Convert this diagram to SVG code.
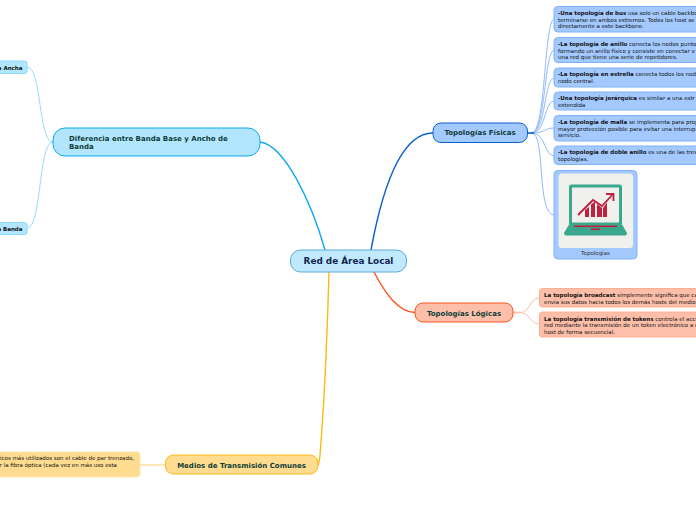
<svg xmlns="http://www.w3.org/2000/svg" width="696" height="520" viewBox="0 0 696 520">
<style>
text{font-family:"DejaVu Sans",Verdana,sans-serif;fill:#111}
.t{font-size:5.5px}
.b{font-weight:bold}
.m{font-size:7px;font-weight:bold;fill:#0f3d3a}
.leaf{fill:#a3c9ff;stroke:#7fb2fb;stroke-width:1}
.org{fill:#fdbfa9;stroke:#fcae92;stroke-width:1}
.c{fill:none;stroke-linecap:round}
</style>
<g id="connectors">
<g class="c" stroke="#8fbaf9" stroke-width="1" fill="none">
<path d="M532 133C546 133 544 19 554 19"/>
<path d="M532 133C546 133 544 50 554 50"/>
<path d="M532 133C546 133 544 78 554 78"/>
<path d="M532 133C546 133 544 101 554 101"/>
<path d="M532 133C546 133 544 128 554 128"/>
<path d="M532 133C546 133 544 156 554 156"/>
<path d="M532 133C546 133 536 215 554 215"/>
</g>
<path d="M527 133L534 133" stroke="#0a5fd0" stroke-width="1.6"/>
<g fill="none" stroke="#fdbfa9" stroke-width="1">
<path d="M520 312.500C530 312.500 530 298 539 298"/>
<path d="M520 312.500C530 312.500 530 324 539 324"/>
</g>
<path d="M513 312.500L520 312.500" stroke="#fdbfa9" stroke-width="1.800"/>
<g fill="none" stroke="#97dcfb" stroke-width="1">
<path d="M53 142C38 142 42 67 27 67"/>
<path d="M53 142C38 142 42 228 27 228"/>
</g>
<path d="M165 465H140" stroke="#fde5b0" stroke-width="1.800"/>
<path d="M371 250C382 190 400 133 433 133" fill="none" stroke="#0a5fd0" stroke-width="1.400"/>
<path d="M374 272C385 293 398 312 415 312.500" fill="none" stroke="#f9571e" stroke-width="1.400"/>
<path d="M325 250C312 204 285 145 260 142" fill="none" stroke="#0da7f2" stroke-width="1.400"/>
<path d="M329 272C327 340 323 420 320 455Q319 464 318 465" fill="none" stroke="#fdb813" stroke-width="1.400"/>
</g>
<g id="root">
<rect x="290.500" y="250" width="116" height="22" rx="10" fill="#c0e9fe" stroke="#5aa9dc" stroke-width="1"/>
<text x="348.500" y="264.300" text-anchor="middle" class="b" font-size="8.850" style="fill:#12264f">Red de Área Local</text>
</g>
<g id="fisicas">
<rect x="433" y="123" width="94.500" height="19.500" rx="8" fill="#a3c9ff" stroke="#0a5fd0" stroke-width="1"/>
<text x="480" y="135.400" text-anchor="middle" class="m">Topologías Físicas</text>
</g>
<g id="logicas">
<rect x="415" y="303" width="98" height="19" rx="8" fill="#fdbfa9" stroke="#f9571e" stroke-width="1"/>
<text x="464" y="315.500" text-anchor="middle" class="m">Topologías Lógicas</text>
</g>
<g id="medios">
<rect x="165.500" y="455" width="152.500" height="19" rx="8" fill="#ffdc8f" stroke="#fdb813" stroke-width="1"/>
<text x="241.500" y="467.500" text-anchor="middle" class="m">Medios de Transmisión Comunes</text>
</g>
<g id="diferencia">
<rect x="53" y="128" width="207" height="28" rx="12" fill="#b2e6fe" stroke="#0da7f2" stroke-width="1"/>
<text x="69" y="141" class="m">Diferencia entre Banda Base y Ancho de</text>
<text x="69" y="149" class="m">Banda</text>
</g>
<g id="leaf-ancha">
<rect x="-20" y="61" width="47" height="12.500" rx="2.500" fill="#b2e6fe" stroke="#8ad7fb" stroke-width="1"/>
<text x="22.500" y="69.500" text-anchor="end" class="t b">a Ancha</text>
</g>
<g id="leaf-banda">
<rect x="-20" y="222.500" width="47" height="12" rx="2.500" fill="#b2e6fe" stroke="#8ad7fb" stroke-width="1"/>
<text x="22.500" y="230.800" text-anchor="end" class="t b">a Banda</text>
</g>
<g id="leaf-medios">
<rect x="-20" y="452" width="160" height="25" rx="3" fill="#ffdc8f" stroke="#fde5b0" stroke-width="1"/>
<text x="134" y="460" text-anchor="end" class="t">icos más utilizados son el cable de par trenzado,</text>
<text x="117" y="467" text-anchor="end" class="t">r la fibra óptica (cada vez en más uso esta</text>
</g>
<g id="bus">
<rect x="554" y="6.500" width="160" height="25.500" rx="4" class="leaf"/>
<text x="558" y="15" class="t"><tspan class="b">-Una topología de bus</tspan> usa solo un cable backbo</text>
<text x="558" y="21.500" class="t">terminarse en ambos extremos. Todos los host se</text>
<text x="558" y="28" class="t">directamente a este backbone.</text>
</g>
<g id="anillo">
<rect x="554" y="37.500" width="160" height="25" rx="4" class="leaf"/>
<text x="558" y="46" class="t"><tspan class="b">-La topología de anillo</tspan> conecta los nodos punto</text>
<text x="558" y="52.500" class="t">formando un anillo físico y consiste en conectar v</text>
<text x="558" y="59" class="t">una red que tiene una serie de repetidores.</text>
</g>
<g id="estrella">
<rect x="554" y="68" width="160" height="19" rx="4" class="leaf"/>
<text x="558" y="76" class="t"><tspan class="b">-La topología en estrella</tspan> conecta todos los nod</text>
<text x="558" y="83" class="t">nodo central.</text>
</g>
<g id="jerarquica">
<rect x="554" y="92" width="160" height="18" rx="4" class="leaf"/>
<text x="558" y="100" class="t"><tspan class="b">-Una topología jerárquica</tspan> es similar a una estr</text>
<text x="558" y="107" class="t">extendida</text>
</g>
<g id="malla">
<rect x="554" y="115.500" width="160" height="25.500" rx="4" class="leaf"/>
<text x="558" y="124" class="t"><tspan class="b">-La topología de malla</tspan> se implementa para prop</text>
<text x="558" y="130.500" class="t">mayor protección posible para evitar una interrup</text>
<text x="558" y="137" class="t">servicio.</text>
</g>
<g id="doble">
<rect x="554" y="146" width="160" height="18.500" rx="4" class="leaf"/>
<text x="558" y="154" class="t"><tspan class="b">-La topología de doble anillo</tspan> es una de las tres</text>
<text x="558" y="161" class="t">topologías.</text>
</g>
<g id="imagen">
<rect x="554" y="170.500" width="83" height="88.500" rx="4" class="leaf"/>
<rect x="558.500" y="173.500" width="74.500" height="74.500" rx="3.500" fill="#f0f0ec"/>
<rect x="570.500" y="186" width="50" height="38" rx="1" fill="#f0f0ec" stroke="#3aa78f" stroke-width="3"/>
<path d="M564 233L569 224.500H622L627 233Q627 235.500 625 235.500H566Q564 235.500 564 233Z" fill="#3aa78f"/>
<rect x="574" y="225.500" width="43" height="1.600" fill="#c0213f"/>
<rect x="591" y="228.500" width="9" height="1.600" fill="#c0213f"/>
<path d="M585 210V217H589V207ZM591 204.500V217H595V201.500ZM597 204V217H602V208ZM603 208V217H607V202.500Z" fill="#c0213f"/>
<path d="M578 215L593 200L602 206L613 194" fill="none" stroke="#c0213f" stroke-width="1.800"/>
<path d="M606 194H613.500V201" fill="none" stroke="#c0213f" stroke-width="1.800"/>
<text x="595.500" y="255" text-anchor="middle" class="t" style="fill:#333">Topologías</text>
</g>
<g id="broadcast">
<rect x="539.500" y="288.500" width="170" height="18.500" rx="3" class="org"/>
<text x="544" y="297" class="t"><tspan class="b">La topología broadcast</tspan> simplemente significa que ca</text>
<text x="544" y="303.500" class="t">envía sus datos hacia todos los demás hosts del medio</text>
</g>
<g id="tokens">
<rect x="539.500" y="312" width="170" height="25" rx="3" class="org"/>
<text x="544" y="320.500" class="t"><tspan class="b">La topología transmisión de tokens</tspan> controla el acce</text>
<text x="544" y="327" class="t">red mediante la transmisión de un token electrónico a c</text>
<text x="544" y="334" class="t">host de forma secuencial.</text>
</g>
</svg>
